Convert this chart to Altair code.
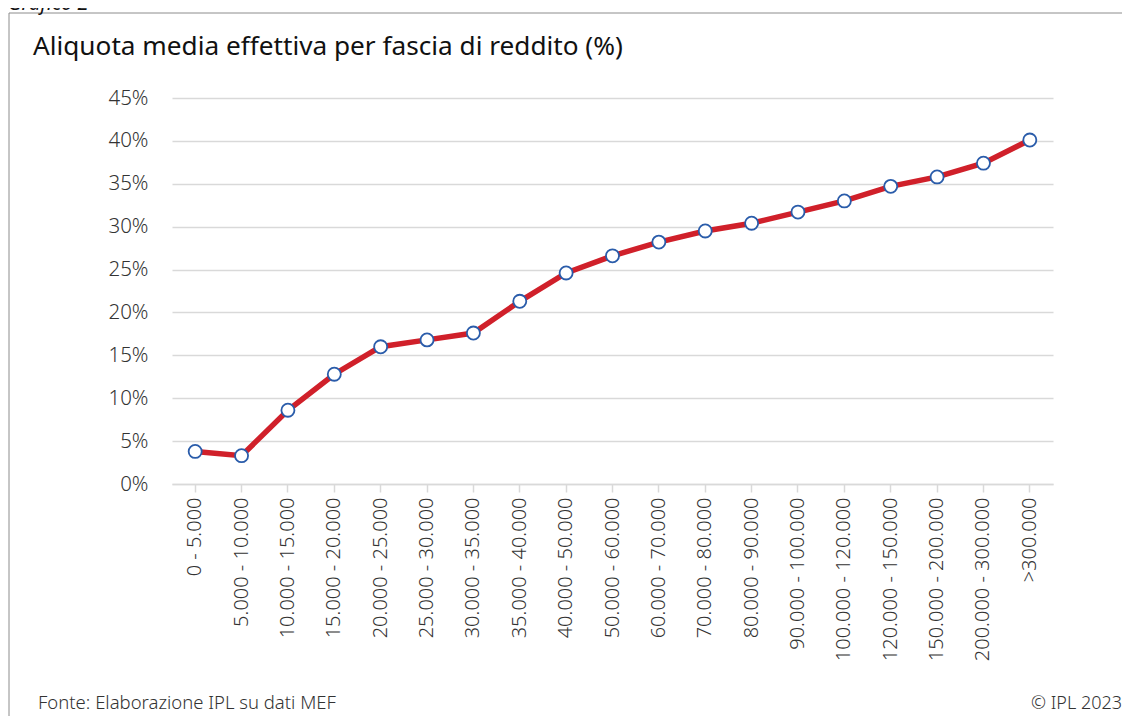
import altair as alt
import pandas as pd

categories = ["0 - 5.000", "5.000 - 10.000", "10.000 - 15.000", "15.000 - 20.000",
              "20.000 - 25.000", "25.000 - 30.000", "30.000 - 35.000", "35.000 - 40.000",
              "40.000 - 50.000", "50.000 - 60.000", "60.000 - 70.000", "70.000 - 80.000",
              "80.000 - 90.000", "90.000 - 100.000", "100.000 - 120.000", "120.000 - 150.000",
              "150.000 - 200.000", "200.000 - 300.000", ">300.000"]
aliquota = [3.8, 3.3, 8.6, 12.8, 16.0, 16.8, 17.6, 21.3, 24.6, 26.6, 28.2, 29.5,
            30.4, 31.7, 33.0, 34.7, 35.8, 37.4, 40.1]
y_ticks = [0, 5, 10, 15, 20, 25, 30, 35, 40, 45]

title_text = "Aliquota media effettiva per fascia di reddito (%)"
source_text = "Fonte: Elaborazione IPL su dati MEF"
copyright_text = "© IPL 2023"
header_text = "Grafico 2"

df = pd.DataFrame({"fascia": categories, "aliquota": aliquota})

FONT = "Noto Sans"
W, H = 881, 386

x_enc = alt.X("fascia:N", sort=categories, title=None,
              scale=alt.Scale(paddingInner=0, paddingOuter=0),
              axis=alt.Axis(labelAngle=270, labelAlign="right", labelBaseline="middle",
                            labelFont=FONT, labelFontSize=20, labelColor="#333333",
                            labelFontWeight=300, labelPadding=5,
                            domainColor="#d9d9d9", domainWidth=1.5,
                            tickColor="#d9d9d9", tickWidth=1.5, tickSize=8,
                            tickBand="center", grid=False))
y_enc = alt.Y("aliquota:Q", title=None,
              scale=alt.Scale(domain=[0, 45], nice=False),
              axis=alt.Axis(values=y_ticks, labelExpr="datum.value + '%'",
                            labelFont=FONT, labelFontSize=20.5, labelColor="#333333",
                            labelFontWeight=300, labelPadding=24,
                            domain=False, ticks=False,
                            gridColor="#d9d9d9", gridWidth=1.5))

base = alt.Chart(df)

line = base.mark_line(color="#d0202a", strokeWidth=5.5).encode(x=x_enc, y=y_enc)
points = base.mark_point(shape="circle", filled=True, fill="white", stroke="#2a5caa",
                         strokeWidth=1.8, size=170, opacity=1).encode(x=x_enc, y=y_enc)

one = alt.Data(values=[{"a": 1}])
frame = alt.Chart(one).mark_rect(fill="transparent", stroke="#8c8c8c", strokeWidth=1,
                                 clip=False).encode(
    x=alt.value(9 - 172), x2=alt.value(1300), y=alt.value(13 - 98), y2=alt.value(900))

title = alt.Chart(one).mark_text(text=title_text, font=FONT, fontSize=26.2, color="#111111",
                                 align="left", baseline="alphabetic").encode(
    x=alt.value(33 - 172), y=alt.value(55 - 98))
header = alt.Chart(one).mark_text(text=header_text, font=FONT, fontSize=20, fontStyle="italic",
                                  color="#111111", align="left", baseline="alphabetic").encode(
    x=alt.value(8 - 172), y=alt.value(10 - 98))
source = alt.Chart(one).mark_text(text=source_text, font=FONT, fontSize=18.5, fontWeight=300,
                                  color="#333333", align="left", baseline="alphabetic").encode(
    x=alt.value(38 - 172), y=alt.value(709 - 98))
copyr = alt.Chart(one).mark_text(text=copyright_text, font=FONT, fontSize=18, fontWeight=300,
                                 color="#333333", align="right", baseline="alphabetic").encode(
    x=alt.value(1122 - 172), y=alt.value(709 - 98))

chart = alt.layer(frame, line, points, title, header, source, copyr).properties(
    width=W, height=H,
    autosize=alt.AutoSizeParams(type="none"),
    padding={"left": 164, "top": 90, "right": 69, "bottom": 232},
).configure(background="white").configure_view(stroke=None)

chart.save("out.html", embed_options={"renderer": "svg", "actions": False})
